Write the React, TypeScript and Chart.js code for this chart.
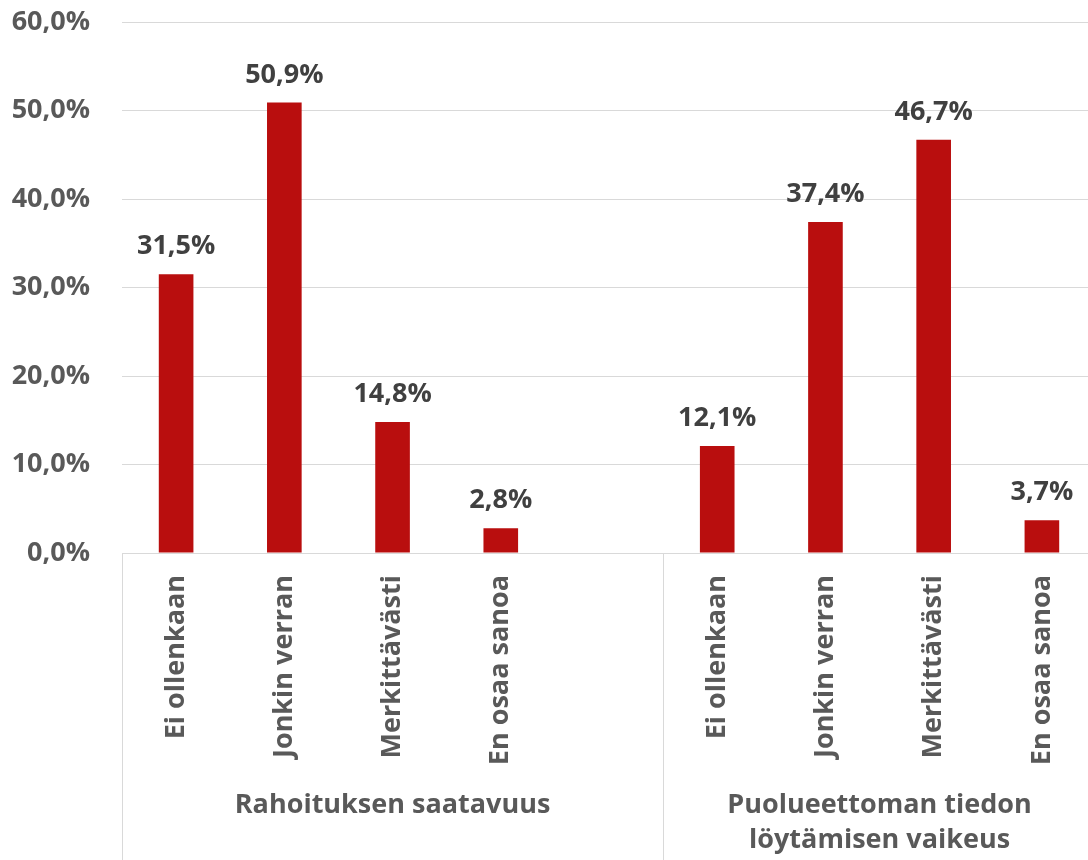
import React, { useEffect, useRef } from "react";
import { Chart, registerables } from "chart.js";

Chart.register(...registerables);

const categories = [
  "Ei ollenkaan",
  "Jonkin verran",
  "Merkittävästi",
  "En osaa sanoa",
  "",
  "Ei ollenkaan",
  "Jonkin verran",
  "Merkittävästi",
  "En osaa sanoa",
];
const values: (number | null)[] = [31.5, 50.9, 14.8, 2.8, null, 12.1, 37.4, 46.7, 3.7];
const groupLabels: string[][] = [["Rahoituksen saatavuus"], ["Puolueettoman tiedon", "löytämisen vaikeus"]];
const groupSizes = [5, 4];
const yMin = 0;
const yMax = 60;
const yStep = 10;

const FONT = '"Open Sans", "Noto Sans", sans-serif';
const fmt = (v: number, d: number) => v.toFixed(d).replace(".", ",") + "%";

const overlay = {
  id: "overlay",
  afterDraw(chart: any) {
    const ctx = chart.ctx;
    const xs = chart.scales.x;
    const area = chart.chartArea;
    ctx.save();
    const meta = chart.getDatasetMeta(0);
    ctx.font = `bold 27px ${FONT}`;
    ctx.fillStyle = "#404040";
    ctx.textAlign = "center";
    ctx.textBaseline = "alphabetic";
    meta.data.forEach((bar: any, i: number) => {
      const v = values[i];
      if (v == null) return;
      ctx.fillText(fmt(v, 1), bar.x, bar.y - 20);
    });
    const half = (xs.getPixelForTick(1) - xs.getPixelForTick(0)) / 2;
    let idx = 0;
    const bounds: number[] = [xs.getPixelForTick(0) - half];
    groupSizes.forEach((n) => {
      idx += n;
      bounds.push(xs.getPixelForTick(idx - 1) + half);
    });
    ctx.strokeStyle = "#d9d9d9";
    ctx.lineWidth = 1;
    bounds.forEach((b) => {
      const px = Math.round(b) + 0.5;
      ctx.beginPath();
      ctx.moveTo(px, area.bottom);
      ctx.lineTo(px, chart.height);
      ctx.stroke();
    });
    ctx.font = `bold 27px ${FONT}`;
    ctx.fillStyle = "#595959";
    ctx.textBaseline = "middle";
    groupLabels.forEach((lines, g) => {
      const cx = (bounds[g] + bounds[g + 1]) / 2;
      lines.forEach((t, li) => {
        ctx.fillText(t, cx, area.bottom + 252 + li * 35);
      });
    });
    ctx.restore();
  },
};

export default function App() {
  const ref = useRef<HTMLCanvasElement>(null);
  useEffect(() => {
    if (!ref.current) return;
    const chart = new Chart(ref.current, {
      type: "bar",
      data: {
        labels: categories,
        datasets: [
          {
            data: values as any,
            backgroundColor: "#b90e0e",
            borderWidth: 0,
            categoryPercentage: 1,
            barPercentage: 0.32,
          },
        ],
      },
      options: {
        responsive: false,
        animation: false,
        devicePixelRatio: 1,
        layout: { padding: { top: 22, left: 0, right: 0, bottom: 0 } },
        plugins: { legend: { display: false }, tooltip: { enabled: false } },
        scales: {
          x: {
            grid: { display: false },
            border: { display: false },
            afterFit: (s: any) => {
              s.height = 307;
              s.paddingLeft = 0;
              s.paddingRight = 0;
            },
            ticks: {
              autoSkip: false,
              minRotation: 90,
              maxRotation: 90,
              padding: 14,
              color: "#595959",
              font: { family: FONT, size: 27, weight: "bold" },
            },
          },
          y: {
            min: yMin,
            max: yMax,
            afterFit: (s: any) => {
              s.width = 122;
              s.paddingTop = 0;
              s.paddingBottom = 0;
            },
            grid: { color: "#d9d9d9", lineWidth: 1, drawTicks: false },
            border: { display: false },
            ticks: {
              stepSize: yStep,
              padding: 32,
              color: "#595959",
              font: { family: FONT, size: 27, weight: "bold" },
              callback: (v: any) => fmt(Number(v), 1),
            },
          },
        },
      },
      plugins: [overlay],
    });
    return () => chart.destroy();
  }, []);
  return (
    <div style={{ position: "absolute", left: 0, top: 0, width: 1088, height: 860, overflow: "hidden", background: "#fff" }}>
      <canvas ref={ref} width={1096} height={860} style={{ display: "block" }} />
    </div>
  );
}
